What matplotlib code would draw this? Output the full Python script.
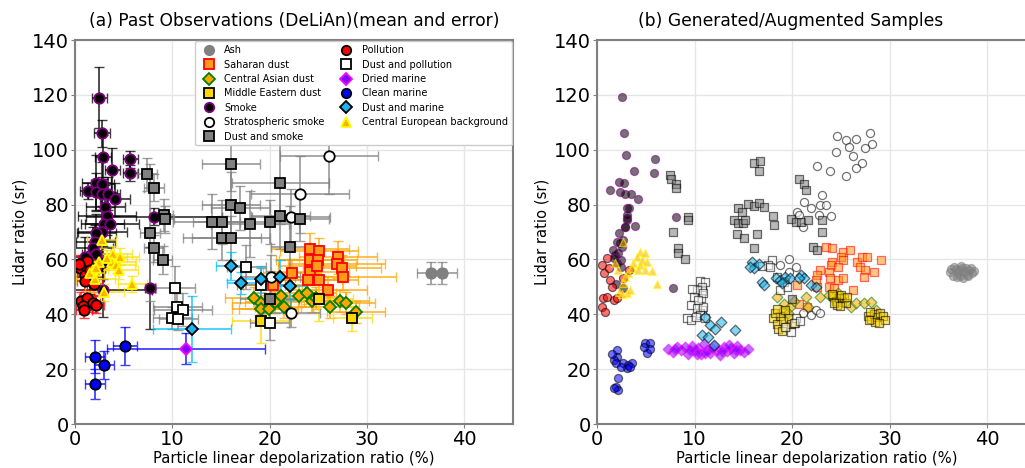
import matplotlib
matplotlib.use("Agg")
import matplotlib.pyplot as plt

# ---------------- past observations (mean and error) ----------------
ash_x = [36.6, 37.7]
ash_y = [55, 55]
ash_xerr = [1.5, 1.5]
ash_yerr = [4, 4]

sah_x = [24.1, 25.1, 24.1, 25.0, 27.0, 26.9, 27.4, 27.5, 24.1, 23.9, 25.1, 22.3, 20.3, 26.0, 24.9]
sah_y = [63.7, 62.9, 59.8, 59.8, 60.8, 58.2, 56.7, 53.7, 55.5, 52.5, 52.4, 55.0, 50.7, 48.9, 57.5]
sah_xerr = [4, 4, 3.5, 4, 4, 5, 4, 5.5, 4, 3.5, 4, 3, 3, 4, 4]
sah_yerr = [6, 5, 6, 5, 6, 5, 5, 5, 5, 5, 5, 5, 4, 5, 5]

cad_x = [18.4, 19.1, 19.1, 19.9, 21.2, 21.5, 23.0, 23.8, 24.3, 26.2, 27.2, 27.8, 28.9, 20.5, 24.8]
cad_y = [45.8, 44.0, 41.8, 41.8, 46.5, 42.5, 46.7, 47.6, 44.9, 42.5, 45.0, 44.0, 41.0, 44.5, 46.0]
cad_xerr = [3, 3, 3, 3, 3, 3, 3, 3, 3, 3, 3, 3, 3, 3, 3]
cad_yerr = [4, 4, 4, 4, 4, 4, 4, 4, 4, 4, 4, 4, 4, 4, 4]

med_x = [19.1, 25.1, 28.5]
med_y = [37.7, 45.5, 38.5]
med_xerr = [3, 3.5, 2]
med_yerr = [8, 8, 4.5]

smk_x = [2.5, 2.8, 2.85, 5.7, 5.7, 3.85, 1.3, 2.2, 2.8, 2.2, 2.8, 3.4, 4.1, 3.1, 3.3,
         3.0, 2.8, 2.2, 2.1, 1.9, 2.2, 2.9, 1.5, 8.1, 7.7, 2.9, 1.0, 1.6, 3.6]
smk_y = [119, 106, 97.5, 96.5, 91.5, 92.5, 85, 88, 87.5, 84.5, 84, 84, 82, 79, 76,
         73, 70, 69.5, 66.5, 64, 62, 59, 53.5, 75.6, 49.5, 49, 61, 57, 73]
smk_xerr = [0.8, 0.8, 0.8, 0.8, 0.8, 0.8, 0.8, 1.5, 1.2, 1.5, 1.5, 1.2, 1.5, 2, 3,
            2, 2.5, 2, 2, 2, 1.5, 1.5, 1.5, 7, 0.5, 5, 1.5, 1.5, 3]
smk_yerr = [11, 5, 8, 3, 3, 8, 3, 10, 8, 7, 6, 6, 6, 8, 7,
            6, 8, 7, 6, 8, 6, 6, 6, 3, 15, 10, 7, 6, 6]

str_x = [26.1, 23.1, 22.2, 20.1, 22.2]
str_y = [97.7, 83.8, 75.6, 53.5, 40.4]
str_xerr = [5, 5, 4, 3, 3]
str_yerr = [14, 14, 10, 8, 5]

dsm_x = [7.4, 8.1, 9.1, 9.2, 7.7, 8.1, 9.0, 16.0, 21.1, 16.0, 17.0, 14.1, 15.1, 18.0,
         20.0, 21.1, 23.1, 15.1, 16.0, 22.1, 20.0]
dsm_y = [91, 86.2, 76.2, 74.6, 69.7, 64, 59.8, 94.8, 88, 79.8, 78.6, 73.8, 73.8, 72.9,
         73.8, 75.8, 74.7, 67.7, 67.7, 64.6, 45.6]
dsm_xerr = [1, 1, 1, 1, 1, 1, 1, 3, 5, 3, 3, 4, 3, 4, 3, 3, 3, 4, 4, 2, 3]
dsm_yerr = [6, 5, 6, 5, 25, 5, 5, 10, 15, 12, 8, 10, 8, 12, 8, 12, 8, 8, 8, 15, 10]

pol_x = [1.2, 0.5, 1.0, 2.0, 1.5, 0.6, 1.2, 1.8, 0.8, 0.9, 2.2, 1.0, 2.3, 0.4]
pol_y = [59.5, 57, 54.5, 51, 56, 45, 46, 44, 43, 41.5, 43.5, 52, 57, 58.5]
pol_xerr = [0.8] * len(pol_x)
pol_yerr = [3] * len(pol_x)

dpo_x = [10.3, 10.5, 11.1, 10.0, 10.6, 17.6, 19.1, 20.0]
dpo_y = [49.7, 42.8, 41.6, 38.5, 38.2, 57.1, 50.7, 36.7]
dpo_xerr = [2, 2.5, 3, 2, 2, 2, 2.5, 2]
dpo_yerr = [8, 5, 6, 4, 4, 8, 6, 6]

drm_x = [11.4]
drm_y = [27.5]
drm_xerr = [8.1]
drm_yerr = [5.5]

clm_x = [2.06, 3.0, 5.15, 2.06]
clm_y = [24.5, 21.5, 28.4, 14.6]
clm_xerr = [1, 1, 1.2, 1]
clm_yerr = [6, 5, 7, 5.5]

dma_x = [16.0, 17.1, 19.1, 21.1, 22.1, 12.0]
dma_y = [57.6, 51.5, 52.7, 53.7, 50.3, 34.5]
dma_xerr = [1.5, 1.5, 2, 1.5, 1.5, 4]
dma_yerr = [5, 4, 5, 6, 5, 12]

ceb_x = [2.75, 3.9, 4.6, 3.8, 4.2, 4.5, 2.5, 1.9, 2.1, 5.9, 3.0, 1.5, 2.2, 3.3]
ceb_y = [67, 62, 61, 59, 58, 56, 59, 56, 53, 51, 48, 55, 57, 60.5]
ceb_xerr = [1.5, 2, 2, 2.5, 2, 2, 2, 1.5, 2, 1.5, 2, 1.5, 2, 2]
ceb_yerr = [3] * len(ceb_x)

# ---------------- generated / augmented samples ----------------
g_ash_x = [36.2, 36.5, 36.8, 37.0, 37.2, 37.4, 37.6, 37.9, 38.1, 38.4, 38.6, 36.6, 37.3, 37.8,
           36.9, 37.5, 36.3, 38.0, 38.3, 37.1]
g_ash_y = [55.5, 54, 56.5, 55, 54, 56.8, 55.3, 54.3, 56, 55, 55.8, 57.2, 57.5, 57,
           53.5, 53.3, 56.6, 53.8, 56.9, 56.1]

g_sah_x = [23.5, 24.1, 25.2, 25.9, 25.0, 25.2, 24.1, 24.0, 24.7, 26.7, 27.2, 27.7, 29.1, 27.0,
           27.5, 27.4, 28.4, 22.9, 23.8, 22.6, 22.4, 23.9, 24.7, 25.2, 23.8, 24.3, 26.2, 22.6,
           20.5, 20.7, 21.5]
g_sah_y = [64.6, 64.0, 62.8, 63.4, 61.0, 59.8, 59.2, 58.0, 57.4, 59.2, 60.8, 61.0, 59.8, 57.4,
           56.1, 53.5, 55.5, 56.1, 55.5, 54.3, 52.5, 53.1, 52.5, 53.1, 50.0, 49.5, 48.9, 50.0,
           50.7, 43.7, 42.8]

g_cad_x = [18.4, 19.2, 19.8, 21.4, 21.6, 22.9, 23.8, 24.7, 26.0, 26.5, 27.4, 28.1, 25.0, 19.0,
           19.6, 24.2, 28.6, 20.2]
g_cad_y = [46.4, 43.7, 42.8, 46.4, 42.8, 46.4, 47.0, 47.6, 42.8, 44.0, 44.0, 44.6, 45.8, 41.3,
           40.4, 46.0, 41.5, 44.8]

g_med_x = [24.2, 24.5, 24.8, 25.1, 25.3, 24.6, 25.0, 25.5, 24.3, 25.6, 24.9, 24.1,
           27.8, 28.1, 28.4, 28.7, 29.0, 29.3, 28.5, 28.0, 29.5, 28.9, 27.9,
           18.0, 18.4, 18.8, 19.1, 19.4, 19.7, 18.6, 19.9, 18.2, 19.3, 20.3, 19.0, 18.5]
g_med_y = [46.5, 45, 46, 44.5, 45.8, 43.5, 47.2, 44, 44.2, 46.3, 42.9, 47.5,
           39.5, 38.2, 40.1, 38.9, 40.5, 39.2, 37.3, 41.0, 38.0, 37.0, 37.8,
           38.5, 36.5, 39.5, 37.5, 35.5, 38.8, 34.5, 36.4, 40.5, 41.5, 37.0, 33.8, 42.0]

g_smk_x = [2.6, 2.8, 2.95, 5.9, 5.8, 3.8, 2.3, 2.8, 1.3, 2.4, 2.9, 3.5, 4.25, 3.05, 3.3,
           3.1, 3.9, 2.9, 8.1, 7.8, 2.3, 2.4, 2.6, 2.2, 1.85, 1.7, 2.45, 2.0, 2.5, 2.7,
           2.9, 3.05, 3.1, 1.6, 2.0, 1.9, 2.7]
g_smk_y = [119.3, 106, 98.2, 96.5, 91.6, 92.4, 88.3, 88, 85.3, 84.5, 83.8, 83.9, 81.9, 78.6, 78.6,
           75, 72.2, 72.0, 75.6, 49.5, 69.7, 65.9, 64.6, 62.2, 61.6, 60.4, 59.8, 58.6, 57.4, 67.1,
           71.9, 74.4, 76.2, 63.5, 66.5, 51, 49.5]

g_str_x = [24.6, 25.5, 26.5, 28.0, 28.2, 27.5, 25.8, 24.5, 26.2, 27.2, 26.5, 25.5, 23.9, 22.6,
           23.1, 22.9, 23.5, 21.2, 21.9, 20.5, 20.7, 22.8, 24.0, 21.1, 19.7, 20.4, 19.7, 21.1,
           21.9, 22.4, 22.9, 19.3, 18.8]
g_str_y = [105, 103.5, 104, 106, 102, 100.5, 101, 99, 97.7, 95, 93.2, 90.4, 92.4, 94,
           83.5, 79.9, 79.9, 81, 78.6, 77.4, 76.2, 76.2, 75.8, 71.9, 60, 57.3, 55.5, 40.4,
           39.7, 41.6, 40.4, 52.0, 58.0]

g_dsm_x = [7.5, 7.6, 8.1, 8.1, 9.3, 9.3, 7.8, 8.3, 8.3, 9.05, 16.1, 16.7, 16.6, 15.5, 16.1,
           16.6, 17.1, 14.5, 14.0, 14.5, 15.0, 15.2, 14.9, 18.0, 18.1, 14.4, 15.1, 16.4, 16.1,
           20.7, 21.2, 21.4, 19.9, 20.4, 20.9, 21.6, 23.1, 23.1, 22.1, 22.5, 20.0]
g_dsm_y = [90.6, 89.5, 87.4, 86.2, 75.6, 74.4, 70.1, 64, 62.5, 60, 95, 96, 92.4, 80.2, 79.5,
           80.4, 79, 78.6, 74.4, 73.2, 73.2, 74.4, 77.4, 75.8, 72.6, 69.3, 67.7, 69.3, 64,
           89.2, 87.5, 85.3, 74.6, 73.8, 73.8, 74.4, 74.4, 70.1, 64.4, 63.4, 45.4]

g_pol_x = [0.5, 1.0, 0.7, 1.2, 1.3, 1.5, 0.65, 1.0, 0.5, 0.8, 1.7, 2.0, 2.7, 3.3]
g_pol_y = [58.0, 60.4, 54.9, 56.8, 52.5, 50.0, 45.8, 46.4, 42.8, 41.0, 45.2, 45.8, 53.1, 56.1]

g_dpo_x = [17.9, 17.5, 16.9, 17.7, 19.2, 19.5, 18.8, 20.4, 20.2, 19.9, 19.3, 10.6, 10.8, 10.7,
           10.8, 10.6, 9.6, 10.3, 10.9, 10.6, 11.1, 9.2, 9.6, 10.1, 11.1, 10.8, 10.3, 9.7,
           10.9, 9.9, 10.4, 18.5, 20.8]
g_dpo_y = [59.8, 58, 57.6, 57.1, 51.9, 50, 48.8, 38.5, 36.7, 33.6, 35.5, 52, 48.5, 46,
           41.7, 40.4, 43.4, 42.2, 42.8, 39.7, 38.5, 38.5, 37.9, 39.1, 51.9, 50, 48.8, 49.4,
           47.6, 46.4, 45.2, 53.5, 37.5]

g_drm_x = [7.3, 7.8, 8.2, 8.6, 9.0, 9.3, 9.7, 10.0, 10.4, 10.7, 11.0, 11.3, 11.6, 12.0, 12.3,
           12.6, 13.0, 13.3, 13.7, 14.0, 14.4, 14.7, 15.1, 15.5, 8.0, 9.5, 11.8, 12.8, 14.2,
           10.2, 13.5, 11.1]
g_drm_y = [27.2, 26.3, 28.0, 26.8, 27.9, 25.6, 28.6, 26.9, 27.8, 25.4, 29.0, 27.1, 26.0, 28.3, 27.0,
           25.2, 28.0, 26.5, 27.6, 25.8, 28.3, 27.0, 26.1, 27.3, 27.2, 26.8, 27.6, 26.7, 26.9,
           25.5, 28.9, 25.9]

g_clm_x = [4.9, 5.4, 5.1, 5.45, 4.8, 2.0, 2.0, 1.7, 1.9, 2.7, 3.2, 3.05, 3.6, 2.2, 1.9, 2.2,
           1.7, 1.5, 2.5, 3.4]
g_clm_y = [29.6, 29.4, 26, 27.2, 28.2, 27, 24.5, 23.3, 22.1, 22.3, 21.5, 20.3, 22.1, 16.7, 13.6, 12.4,
           13, 25.5, 20.8, 20.9]

g_dma_x = [15.9, 16.1, 15.7, 16.9, 17.1, 18.3, 18.8, 19.3, 19.8, 20.9, 21.2, 20.7, 21.9, 22.4,
           11.1, 11.6, 12.1, 12.7, 10.8, 11.4, 14.1, 12.0, 16.6, 19.0]
g_dma_y = [59.2, 56.8, 57.3, 51.9, 50.7, 53.1, 52.5, 53.5, 53.1, 54.3, 53.1, 53.1, 50.7, 50,
           39.1, 36.1, 34.5, 37.3, 32.4, 31.8, 34.3, 28.8, 58.2, 51.5]

g_ceb_x = [4.4, 4.9, 4.1, 4.6, 5.1, 3.7, 4.4, 3.6, 4.25, 4.9, 5.6, 6.1, 3.2, 2.9, 2.7, 3.05,
           3.4, 1.85, 2.2, 2.7, 2.3, 2.6]
g_ceb_y = [62.8, 62.2, 61.0, 59.8, 59.2, 58.6, 58.0, 56.8, 56.1, 56.1, 55.9, 51.0, 54.9, 53.7,
           51.3, 47.6, 48.9, 58.6, 56.1, 66.5, 48, 47.5]

# label, marker, face, edge, errorbar colour
styles = [
    ("Ash", "o", "grey", "grey", "grey"),
    ("Saharan dust", "s", "#ff9a1a", "red", "orange"),
    ("Central Asian dust", "D", "orange", "green", "orange"),
    ("Middle Eastern dust", "s", "gold", "black", "gold"),
    ("Smoke", "o", "black", "purple", "black"),
    ("Stratospheric smoke", "o", "white", "black", "grey"),
    ("Dust and smoke", "s", "grey", "black", "grey"),
    ("Pollution", "o", "red", "black", "red"),
    ("Dust and pollution", "s", "white", "black", "grey"),
    ("Dried marine", "D", "#7f00ff", "magenta", "blue"),
    ("Clean marine", "o", "blue", "black", "blue"),
    ("Dust and marine", "D", "#1eb4ee", "black", "deepskyblue"),
    ("Central European background", "^", "#ffb000", "yellow", "#ffe100"),
]

obs = [
    (ash_x, ash_y, ash_xerr, ash_yerr),
    (sah_x, sah_y, sah_xerr, sah_yerr),
    (cad_x, cad_y, cad_xerr, cad_yerr),
    (med_x, med_y, med_xerr, med_yerr),
    (smk_x, smk_y, smk_xerr, smk_yerr),
    (str_x, str_y, str_xerr, str_yerr),
    (dsm_x, dsm_y, dsm_xerr, dsm_yerr),
    (pol_x, pol_y, pol_xerr, pol_yerr),
    (dpo_x, dpo_y, dpo_xerr, dpo_yerr),
    (drm_x, drm_y, drm_xerr, drm_yerr),
    (clm_x, clm_y, clm_xerr, clm_yerr),
    (dma_x, dma_y, dma_xerr, dma_yerr),
    (ceb_x, ceb_y, ceb_xerr, ceb_yerr),
]

gen = [
    (g_ash_x, g_ash_y), (g_sah_x, g_sah_y), (g_cad_x, g_cad_y), (g_med_x, g_med_y),
    (g_smk_x, g_smk_y), (g_str_x, g_str_y), (g_dsm_x, g_dsm_y), (g_pol_x, g_pol_y),
    (g_dpo_x, g_dpo_y), (g_drm_x, g_drm_y), (g_clm_x, g_clm_y), (g_dma_x, g_dma_y),
    (g_ceb_x, g_ceb_y),
]


def style_axes(ax):
    ax.set_xlim(0, 45)
    ax.set_ylim(0, 140)
    ax.set_xticks([0, 10, 20, 30, 40])
    ax.set_yticks(range(0, 141, 20))
    ax.tick_params(labelsize=14, color="grey", length=3, pad=1.5)
    ax.grid(True, color="#e6e6e6", linewidth=1)
    ax.set_axisbelow(True)
    for sp in ax.spines.values():
        sp.set_color("grey")
        sp.set_linewidth(1.5)
    ax.set_xlabel("Particle linear depolarization ratio (%)", fontsize=10.6, labelpad=1)
    ax.set_ylabel("Lidar ratio (sr)", fontsize=10.6, labelpad=3)


fig = plt.figure(figsize=(10.25, 4.68), dpi=100)
ax1 = fig.add_axes([75 / 1025, 44 / 468, 438 / 1025, 384 / 468])
ax2 = fig.add_axes([597 / 1025, 44 / 468, 439 / 1025, 384 / 468])

# (a) observations with error bars
for (label, mk, face, edge, ecol), (x, y, xe, ye) in zip(styles, obs):
    ax1.errorbar(x, y, xerr=xe, yerr=ye, fmt="none", ecolor=ecol, elinewidth=1.3,
                 capsize=3.5, alpha=0.75)
for (label, mk, face, edge, ecol), (x, y, xe, ye) in zip(styles, obs):
    ax1.plot(x, y, linestyle="none", marker=mk, markersize=7.5 if mk != "D" else 6.5,
             markerfacecolor=face, markeredgecolor=edge, markeredgewidth=1.3, label=label)

ax1.legend(loc="upper right", ncol=2, fontsize=7, markerscale=0.9, borderaxespad=0.15,
           handletextpad=0.6, columnspacing=1.2, labelspacing=0.45, framealpha=1)
style_axes(ax1)
ax1.set_title("(a) Past Observations (DeLiAn)(mean and error)", fontsize=12.3, pad=10)

# (b) generated samples
for (label, mk, face, edge, ecol), (x, y) in zip(styles, gen):
    ax2.scatter(x, y, marker=mk, s=34 if mk != "D" else 30, c=face, edgecolors=edge,
                linewidths=0.9, alpha=0.55)
style_axes(ax2)
ax2.set_title("(b) Generated/Augmented Samples", fontsize=12.3, x=0.44, pad=10)

fig.savefig("out.png", dpi=100)
